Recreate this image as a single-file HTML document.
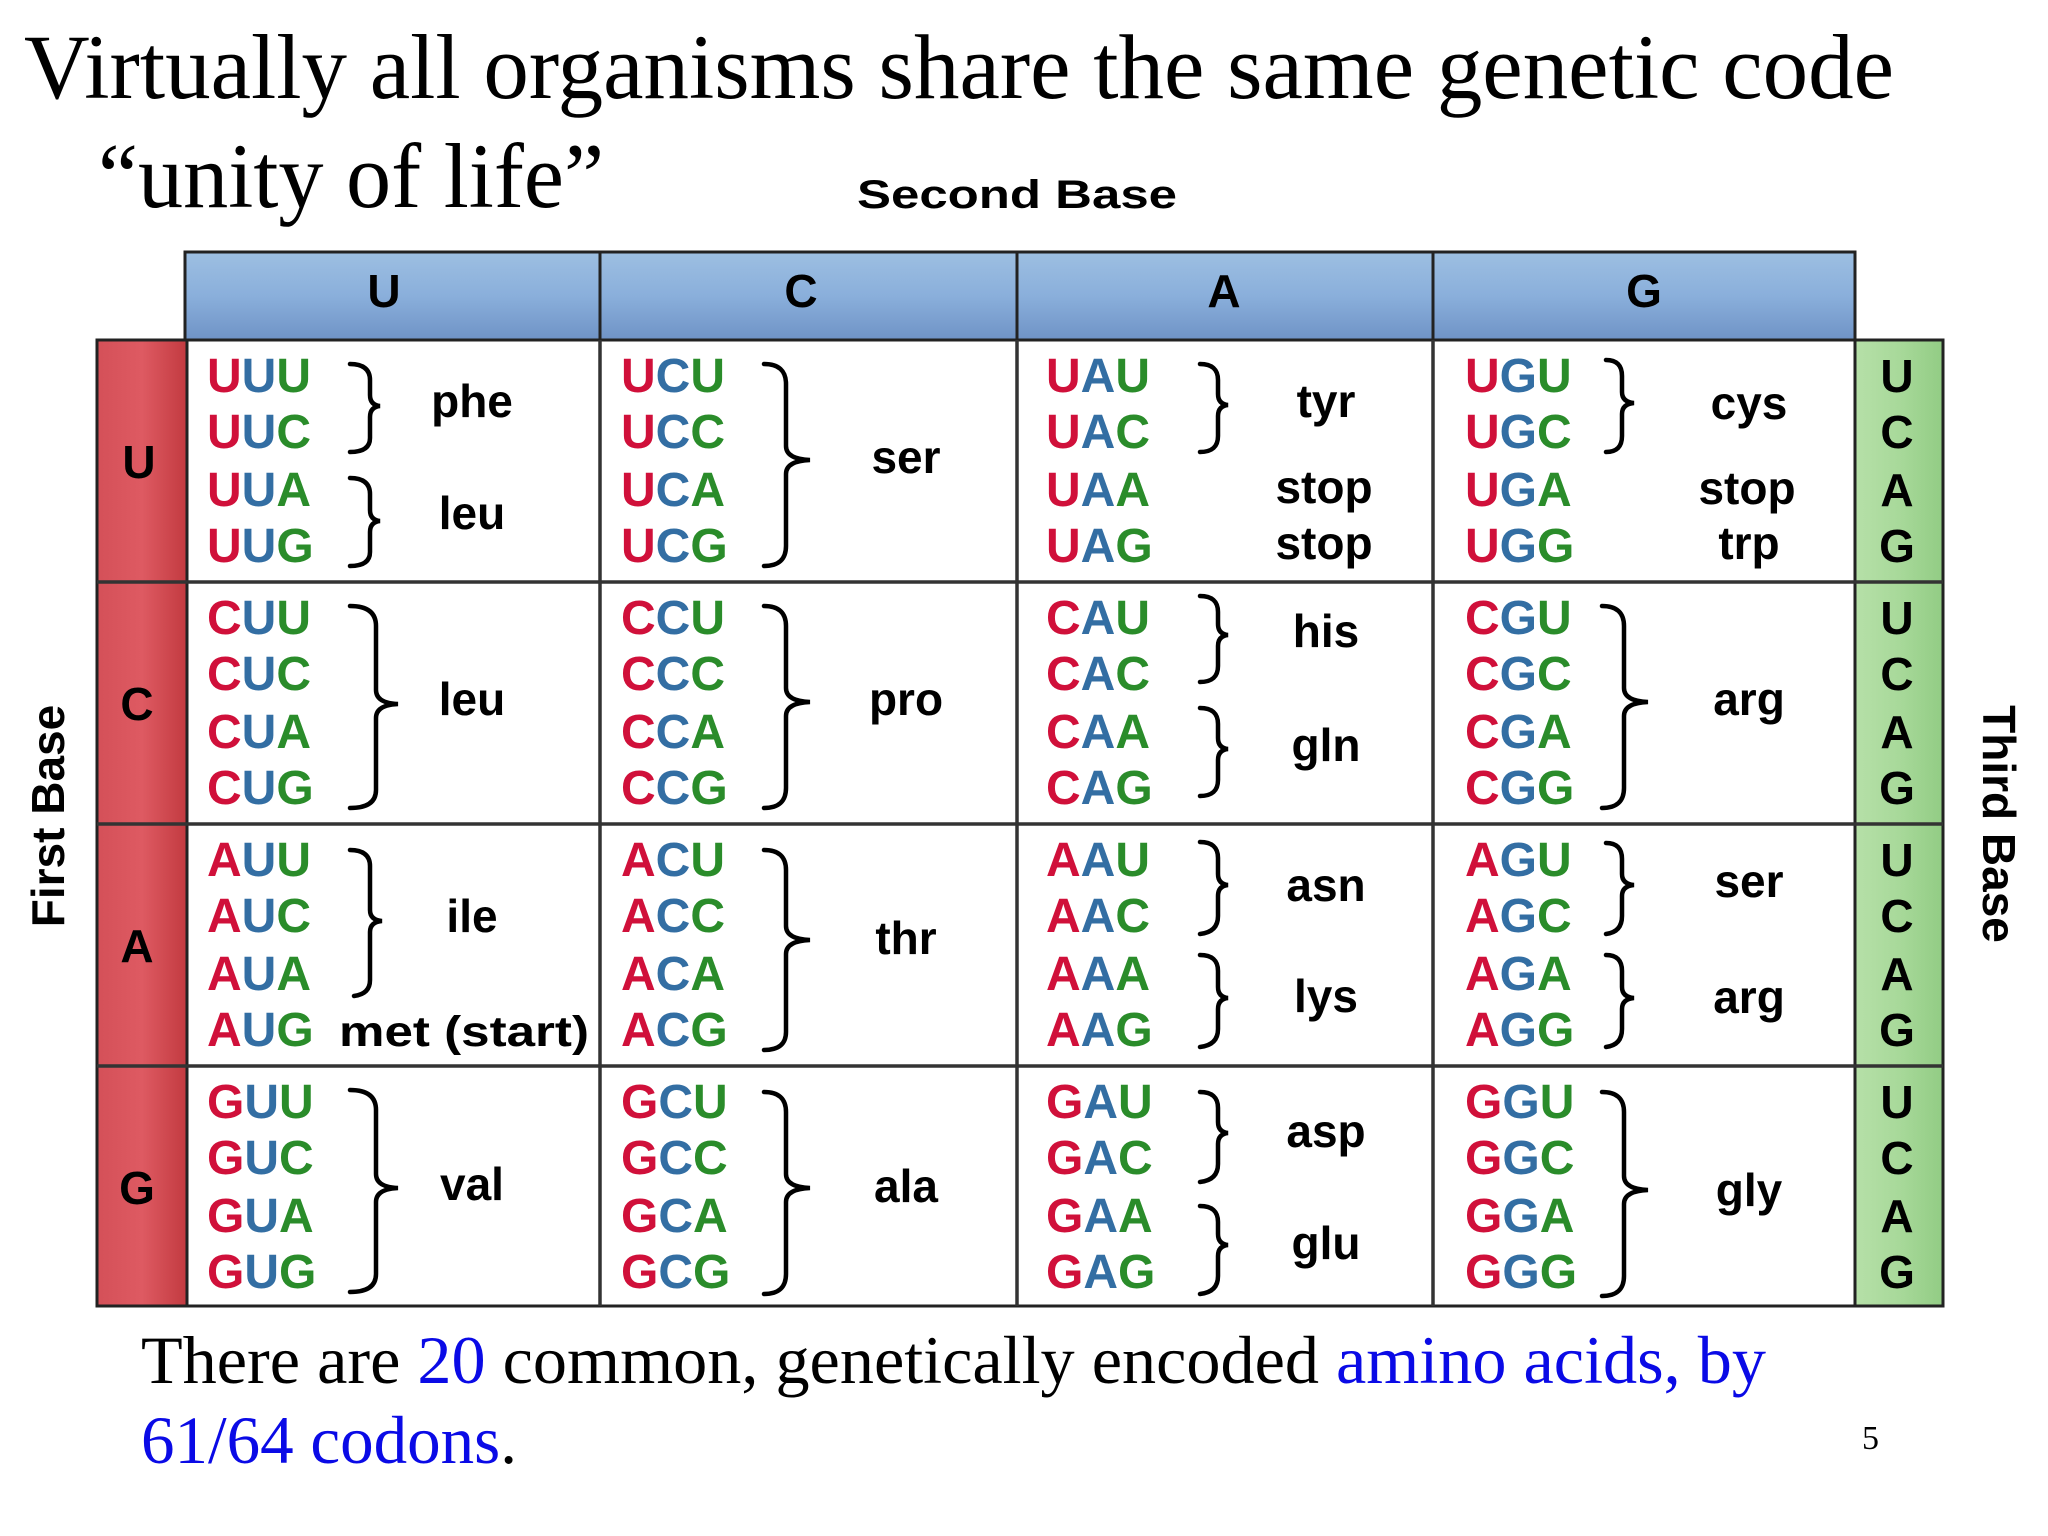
<!DOCTYPE html>
<html><head><meta charset="utf-8"><style>
html,body{margin:0;padding:0;background:#fff;}
svg{display:block;}
.c{font-family:"Liberation Sans",Arial,sans-serif;font-weight:bold;font-size:48px;}
.a{font-family:"Liberation Sans",Arial,sans-serif;font-weight:bold;font-size:46px;fill:#000;text-anchor:middle;}
.r{fill:#d0103a}.b{fill:#336ea3}.g{fill:#2a8c2a}
.br{fill:none;stroke:#000;stroke-width:4.5;stroke-linecap:round;}
.serif{font-family:"Liberation Serif","Times New Roman",serif;}
</style></head><body>
<svg width="2048" height="1536" viewBox="0 0 2048 1536" xmlns="http://www.w3.org/2000/svg">
<defs>
<linearGradient id="hb" x1="0" y1="0" x2="0" y2="1"><stop offset="0" stop-color="#9dbfe2"/><stop offset="0.5" stop-color="#8aafdb"/><stop offset="1" stop-color="#6f93c6"/></linearGradient>
<linearGradient id="rd" x1="0" y1="0" x2="1" y2="0"><stop offset="0" stop-color="#d45058"/><stop offset="0.5" stop-color="#de5a62"/><stop offset="1" stop-color="#c23a40"/></linearGradient>
<linearGradient id="gr" x1="0" y1="0" x2="1" y2="0"><stop offset="0" stop-color="#b6e0a8"/><stop offset="0.5" stop-color="#a8d99a"/><stop offset="1" stop-color="#92cc84"/></linearGradient>
</defs>
<text class="serif" x="24" y="98" font-size="92" textLength="1870" lengthAdjust="spacingAndGlyphs">Virtually all organisms share the same genetic code</text>
<text class="serif" x="98" y="207" font-size="92" textLength="506" lengthAdjust="spacingAndGlyphs">“unity of life”</text>
<text x="857" y="208" font-family="Liberation Sans,Arial,sans-serif" font-weight="bold" font-size="40" textLength="320" lengthAdjust="spacingAndGlyphs">Second Base</text>

<!-- header -->
<rect x="185" y="252" width="1670" height="88" fill="url(#hb)" stroke="#222" stroke-width="3"/>
<g stroke="#222" stroke-width="3"><line x1="600" y1="252" x2="600" y2="340"/><line x1="1017" y1="252" x2="1017" y2="340"/><line x1="1433" y1="252" x2="1433" y2="340"/></g>
<g class="a" font-size="46"><text x="384" y="307">U</text><text x="801" y="307">C</text><text x="1224" y="307">A</text><text x="1644" y="307">G</text></g>

<!-- side columns -->
<rect x="97" y="340" width="90" height="966" fill="url(#rd)" stroke="#222" stroke-width="3"/>
<rect x="1855" y="340" width="88" height="966" fill="url(#gr)" stroke="#222" stroke-width="3"/>
<rect x="187" y="340" width="1668" height="966" fill="#fff" stroke="#222" stroke-width="3"/>
<g stroke="#333" stroke-width="3.5">
<line x1="97" y1="582" x2="1943" y2="582"/><line x1="97" y1="824" x2="1943" y2="824"/><line x1="97" y1="1066" x2="1943" y2="1066"/>
<line x1="600" y1="340" x2="600" y2="1306"/><line x1="1017" y1="340" x2="1017" y2="1306"/><line x1="1433" y1="340" x2="1433" y2="1306"/>
</g>
<g class="a"><text x="139" y="478">U</text><text x="137" y="720">C</text><text x="137" y="962">A</text><text x="137" y="1204">G</text></g>
<g class="a" font-size="48">
<text x="1897" y="392">U</text><text x="1897" y="448">C</text><text x="1897" y="506">A</text><text x="1897" y="562">G</text>
<text x="1897" y="634">U</text><text x="1897" y="690">C</text><text x="1897" y="748">A</text><text x="1897" y="804">G</text>
<text x="1897" y="876">U</text><text x="1897" y="932">C</text><text x="1897" y="990">A</text><text x="1897" y="1046">G</text>
<text x="1897" y="1118">U</text><text x="1897" y="1174">C</text><text x="1897" y="1232">A</text><text x="1897" y="1288">G</text>
</g>
<text class="a" font-size="40" transform="translate(64,816) rotate(-90)">First Base</text>
<text class="a" font-size="40" transform="translate(1983,824) rotate(90)">Third Base</text>

<!-- codons -->
<g class="c">
<!-- row U -->
<text x="207" y="392"><tspan class="r">U</tspan><tspan class="b">U</tspan><tspan class="g">U</tspan></text>
<text x="207" y="448"><tspan class="r">U</tspan><tspan class="b">U</tspan><tspan class="g">C</tspan></text>
<text x="207" y="506"><tspan class="r">U</tspan><tspan class="b">U</tspan><tspan class="g">A</tspan></text>
<text x="207" y="562"><tspan class="r">U</tspan><tspan class="b">U</tspan><tspan class="g">G</tspan></text>
<text x="621" y="392"><tspan class="r">U</tspan><tspan class="b">C</tspan><tspan class="g">U</tspan></text>
<text x="621" y="448"><tspan class="r">U</tspan><tspan class="b">C</tspan><tspan class="g">C</tspan></text>
<text x="621" y="506"><tspan class="r">U</tspan><tspan class="b">C</tspan><tspan class="g">A</tspan></text>
<text x="621" y="562"><tspan class="r">U</tspan><tspan class="b">C</tspan><tspan class="g">G</tspan></text>
<text x="1046" y="392"><tspan class="r">U</tspan><tspan class="b">A</tspan><tspan class="g">U</tspan></text>
<text x="1046" y="448"><tspan class="r">U</tspan><tspan class="b">A</tspan><tspan class="g">C</tspan></text>
<text x="1046" y="506"><tspan class="r">U</tspan><tspan class="b">A</tspan><tspan class="g">A</tspan></text>
<text x="1046" y="562"><tspan class="r">U</tspan><tspan class="b">A</tspan><tspan class="g">G</tspan></text>
<text x="1465" y="392"><tspan class="r">U</tspan><tspan class="b">G</tspan><tspan class="g">U</tspan></text>
<text x="1465" y="448"><tspan class="r">U</tspan><tspan class="b">G</tspan><tspan class="g">C</tspan></text>
<text x="1465" y="506"><tspan class="r">U</tspan><tspan class="b">G</tspan><tspan class="g">A</tspan></text>
<text x="1465" y="562"><tspan class="r">U</tspan><tspan class="b">G</tspan><tspan class="g">G</tspan></text>
<!-- row C -->
<text x="207" y="634"><tspan class="r">C</tspan><tspan class="b">U</tspan><tspan class="g">U</tspan></text>
<text x="207" y="690"><tspan class="r">C</tspan><tspan class="b">U</tspan><tspan class="g">C</tspan></text>
<text x="207" y="748"><tspan class="r">C</tspan><tspan class="b">U</tspan><tspan class="g">A</tspan></text>
<text x="207" y="804"><tspan class="r">C</tspan><tspan class="b">U</tspan><tspan class="g">G</tspan></text>
<text x="621" y="634"><tspan class="r">C</tspan><tspan class="b">C</tspan><tspan class="g">U</tspan></text>
<text x="621" y="690"><tspan class="r">C</tspan><tspan class="b">C</tspan><tspan class="g">C</tspan></text>
<text x="621" y="748"><tspan class="r">C</tspan><tspan class="b">C</tspan><tspan class="g">A</tspan></text>
<text x="621" y="804"><tspan class="r">C</tspan><tspan class="b">C</tspan><tspan class="g">G</tspan></text>
<text x="1046" y="634"><tspan class="r">C</tspan><tspan class="b">A</tspan><tspan class="g">U</tspan></text>
<text x="1046" y="690"><tspan class="r">C</tspan><tspan class="b">A</tspan><tspan class="g">C</tspan></text>
<text x="1046" y="748"><tspan class="r">C</tspan><tspan class="b">A</tspan><tspan class="g">A</tspan></text>
<text x="1046" y="804"><tspan class="r">C</tspan><tspan class="b">A</tspan><tspan class="g">G</tspan></text>
<text x="1465" y="634"><tspan class="r">C</tspan><tspan class="b">G</tspan><tspan class="g">U</tspan></text>
<text x="1465" y="690"><tspan class="r">C</tspan><tspan class="b">G</tspan><tspan class="g">C</tspan></text>
<text x="1465" y="748"><tspan class="r">C</tspan><tspan class="b">G</tspan><tspan class="g">A</tspan></text>
<text x="1465" y="804"><tspan class="r">C</tspan><tspan class="b">G</tspan><tspan class="g">G</tspan></text>
<!-- row A -->
<text x="207" y="876"><tspan class="r">A</tspan><tspan class="b">U</tspan><tspan class="g">U</tspan></text>
<text x="207" y="932"><tspan class="r">A</tspan><tspan class="b">U</tspan><tspan class="g">C</tspan></text>
<text x="207" y="990"><tspan class="r">A</tspan><tspan class="b">U</tspan><tspan class="g">A</tspan></text>
<text x="207" y="1046"><tspan class="r">A</tspan><tspan class="b">U</tspan><tspan class="g">G</tspan></text>
<text x="621" y="876"><tspan class="r">A</tspan><tspan class="b">C</tspan><tspan class="g">U</tspan></text>
<text x="621" y="932"><tspan class="r">A</tspan><tspan class="b">C</tspan><tspan class="g">C</tspan></text>
<text x="621" y="990"><tspan class="r">A</tspan><tspan class="b">C</tspan><tspan class="g">A</tspan></text>
<text x="621" y="1046"><tspan class="r">A</tspan><tspan class="b">C</tspan><tspan class="g">G</tspan></text>
<text x="1046" y="876"><tspan class="r">A</tspan><tspan class="b">A</tspan><tspan class="g">U</tspan></text>
<text x="1046" y="932"><tspan class="r">A</tspan><tspan class="b">A</tspan><tspan class="g">C</tspan></text>
<text x="1046" y="990"><tspan class="r">A</tspan><tspan class="b">A</tspan><tspan class="g">A</tspan></text>
<text x="1046" y="1046"><tspan class="r">A</tspan><tspan class="b">A</tspan><tspan class="g">G</tspan></text>
<text x="1465" y="876"><tspan class="r">A</tspan><tspan class="b">G</tspan><tspan class="g">U</tspan></text>
<text x="1465" y="932"><tspan class="r">A</tspan><tspan class="b">G</tspan><tspan class="g">C</tspan></text>
<text x="1465" y="990"><tspan class="r">A</tspan><tspan class="b">G</tspan><tspan class="g">A</tspan></text>
<text x="1465" y="1046"><tspan class="r">A</tspan><tspan class="b">G</tspan><tspan class="g">G</tspan></text>
<!-- row G -->
<text x="207" y="1118"><tspan class="r">G</tspan><tspan class="b">U</tspan><tspan class="g">U</tspan></text>
<text x="207" y="1174"><tspan class="r">G</tspan><tspan class="b">U</tspan><tspan class="g">C</tspan></text>
<text x="207" y="1232"><tspan class="r">G</tspan><tspan class="b">U</tspan><tspan class="g">A</tspan></text>
<text x="207" y="1288"><tspan class="r">G</tspan><tspan class="b">U</tspan><tspan class="g">G</tspan></text>
<text x="621" y="1118"><tspan class="r">G</tspan><tspan class="b">C</tspan><tspan class="g">U</tspan></text>
<text x="621" y="1174"><tspan class="r">G</tspan><tspan class="b">C</tspan><tspan class="g">C</tspan></text>
<text x="621" y="1232"><tspan class="r">G</tspan><tspan class="b">C</tspan><tspan class="g">A</tspan></text>
<text x="621" y="1288"><tspan class="r">G</tspan><tspan class="b">C</tspan><tspan class="g">G</tspan></text>
<text x="1046" y="1118"><tspan class="r">G</tspan><tspan class="b">A</tspan><tspan class="g">U</tspan></text>
<text x="1046" y="1174"><tspan class="r">G</tspan><tspan class="b">A</tspan><tspan class="g">C</tspan></text>
<text x="1046" y="1232"><tspan class="r">G</tspan><tspan class="b">A</tspan><tspan class="g">A</tspan></text>
<text x="1046" y="1288"><tspan class="r">G</tspan><tspan class="b">A</tspan><tspan class="g">G</tspan></text>
<text x="1465" y="1118"><tspan class="r">G</tspan><tspan class="b">G</tspan><tspan class="g">U</tspan></text>
<text x="1465" y="1174"><tspan class="r">G</tspan><tspan class="b">G</tspan><tspan class="g">C</tspan></text>
<text x="1465" y="1232"><tspan class="r">G</tspan><tspan class="b">G</tspan><tspan class="g">A</tspan></text>
<text x="1465" y="1288"><tspan class="r">G</tspan><tspan class="b">G</tspan><tspan class="g">G</tspan></text>
</g>

<!-- amino acid labels -->
<g class="a">
<text x="472" y="417">phe</text><text x="472" y="529">leu</text>
<text x="906" y="473">ser</text>
<text x="1326" y="417">tyr</text><text x="1324" y="503">stop</text><text x="1324" y="559">stop</text>
<text x="1749" y="419">cys</text><text x="1747" y="504">stop</text><text x="1749" y="559">trp</text>
<text x="472" y="715">leu</text><text x="906" y="715">pro</text>
<text x="1326" y="647">his</text><text x="1326" y="761">gln</text>
<text x="1749" y="715">arg</text>
<text x="472" y="932">ile</text>
<text x="464" y="1046" font-size="43" textLength="250" lengthAdjust="spacingAndGlyphs">met (start)</text>
<text x="906" y="954">thr</text>
<text x="1326" y="901">asn</text><text x="1326" y="1012">lys</text>
<text x="1749" y="897">ser</text><text x="1749" y="1013">arg</text>
<text x="472" y="1200">val</text><text x="906" y="1202">ala</text>
<text x="1326" y="1147">asp</text><text x="1326" y="1259">glu</text>
<text x="1749" y="1206">gly</text>
</g>

<!-- braces -->
<g class="br">
<!-- 2-line brace template: top,bot -->
<path d="M350,364 Q370,364 370,380 L370,395 Q370,405 380,406 Q370,407 370,417 L370,438 Q370,452 350,452"/>
<path d="M350,478 Q370,478 370,494 L370,510 Q370,520 380,521 Q370,522 370,532 L370,552 Q370,566 350,566"/>
<path d="M350,606 Q376,606 376,626 L376,690 Q376,703 398,704 Q376,705 376,718 L376,790 Q376,808 350,808"/>
<path d="M350,850 Q370,850 370,866 L370,910 Q370,920 382,921 Q370,922 370,932 L370,980 Q370,994 354,996"/>
<path d="M350,1090 Q376,1090 376,1110 L376,1174 Q376,1187 398,1188 Q376,1189 376,1202 L376,1274 Q376,1292 350,1292"/>

<path d="M764,364 Q786,364 786,384 L786,446 Q786,459 810,460 Q786,461 786,474 L786,546 Q786,566 764,566"/>
<path d="M764,606 Q786,606 786,626 L786,688 Q786,701 810,702 Q786,703 786,716 L786,788 Q786,808 764,808"/>
<path d="M764,850 Q786,850 786,870 L786,926 Q786,939 810,940 Q786,941 786,954 L786,1032 Q786,1050 764,1050"/>
<path d="M764,1092 Q786,1092 786,1112 L786,1174 Q786,1187 810,1188 Q786,1189 786,1202 L786,1274 Q786,1294 764,1294"/>

<path d="M1200,364 Q1218,364 1218,380 L1218,394 Q1218,404 1228,405 Q1218,406 1218,416 L1218,436 Q1218,452 1200,452"/>
<path d="M1200,596 Q1218,596 1218,612 L1218,624 Q1218,634 1228,635 Q1218,636 1218,646 L1218,666 Q1218,682 1200,682"/>
<path d="M1200,708 Q1218,708 1218,724 L1218,738 Q1218,748 1228,749 Q1218,750 1218,760 L1218,780 Q1218,796 1200,796"/>
<path d="M1200,842 Q1218,842 1218,858 L1218,874 Q1218,884 1228,885 Q1218,886 1218,896 L1218,916 Q1218,932 1200,934"/>
<path d="M1200,955 Q1218,955 1218,971 L1218,987 Q1218,997 1228,998 Q1218,999 1218,1009 L1218,1029 Q1218,1045 1200,1047"/>
<path d="M1200,1092 Q1218,1092 1218,1108 L1218,1122 Q1218,1132 1228,1133 Q1218,1134 1218,1144 L1218,1164 Q1218,1180 1200,1182"/>
<path d="M1200,1206 Q1218,1206 1218,1222 L1218,1234 Q1218,1244 1228,1245 Q1218,1246 1218,1256 L1218,1276 Q1218,1292 1200,1294"/>

<path d="M1606,360 Q1622,360 1622,376 L1622,392 Q1622,402 1634,403 Q1622,404 1622,414 L1622,436 Q1622,452 1606,452"/>
<path d="M1602,606 Q1624,606 1624,626 L1624,688 Q1624,701 1648,702 Q1624,703 1624,716 L1624,788 Q1624,808 1602,808"/>
<path d="M1606,843 Q1622,843 1622,859 L1622,874 Q1622,884 1634,885 Q1622,886 1622,896 L1622,916 Q1622,932 1606,934"/>
<path d="M1606,955 Q1622,955 1622,971 L1622,987 Q1622,997 1634,998 Q1622,999 1622,1009 L1622,1029 Q1622,1045 1606,1047"/>
<path d="M1602,1092 Q1624,1092 1624,1112 L1624,1176 Q1624,1189 1648,1190 Q1624,1191 1624,1204 L1624,1276 Q1624,1296 1602,1296"/>
</g>

<!-- bottom text -->
<text class="serif" x="141" y="1383" font-size="68" textLength="1625" lengthAdjust="spacingAndGlyphs">There are <tspan fill="#0a0ae6">20</tspan> common, genetically encoded <tspan fill="#0a0ae6">amino acids, by</tspan></text>
<text class="serif" x="141" y="1463" font-size="68" fill="#0a0ae6" textLength="376" lengthAdjust="spacingAndGlyphs">61/64 codons<tspan fill="#000">.</tspan></text>
<text class="serif" x="1862" y="1449" font-size="34">5</text>
</svg>
</body></html>
